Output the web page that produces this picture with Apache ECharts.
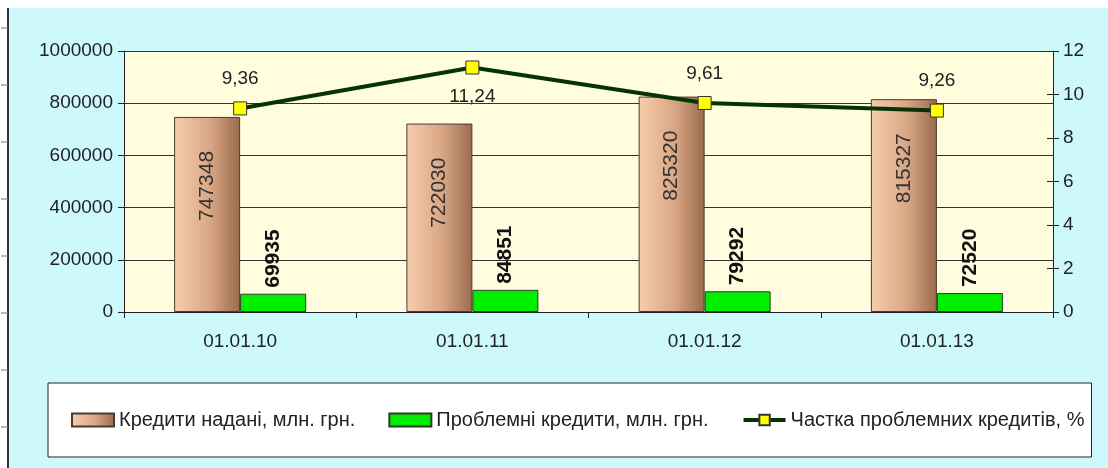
<!DOCTYPE html>
<html>
<head>
<meta charset="utf-8">
<script src="https://cdn.jsdelivr.net/npm/echarts@6/dist/echarts.min.js"></script>
<style>
  html, body { margin: 0; padding: 0; background: #fff; }
  #chart { width: 1108px; height: 468px; }
</style>
</head>
<body>
<div id="chart"></div>
<script>
// Дані діаграми
const dates = ['01.01.10', '01.01.11', '01.01.12', '01.01.13'];
const loans = [747348, 722030, 825320, 815327];
const problemLoans = [69935, 84851, 79292, 72520];
const problemShare = [9.36, 11.24, 9.61, 9.26];
const shareLabelPos = ['top', 'bottom', 'top', 'top'];

const font = 'Liberation Sans, Arial, sans-serif';
const chart = echarts.init(document.getElementById('chart'));

// рамка сторінки зліва
const frame = [
  { type: 'rect', shape: { x: 9, y: 8, width: 1099, height: 460 }, style: { fill: '#cdf9fd' }, z: -10 },
  { type: 'line', shape: { x1: 8, y1: 8, x2: 8, y2: 468 }, style: { stroke: '#333', lineWidth: 2 } }
];
for (let y = 28; y < 468; y += 57) {
  frame.push({ type: 'line', shape: { x1: 1, y1: y, x2: 8, y2: y }, style: { stroke: '#777', lineWidth: 1 } });
}

const tanGradient = new echarts.graphic.LinearGradient(0, 0, 1, 0, [
  { offset: 0, color: '#f6cdac' },
  { offset: 0.55, color: '#d9a685' },
  { offset: 1, color: '#9a6a4c' }
]);

const axisText = { fontFamily: font, fontSize: 19, color: '#222' };

const option = {
  backgroundColor: '#fff',
  animation: false,
  graphic: frame,
  textStyle: { fontFamily: font },
  grid: {
    left: 124, right: 55, top: 51, bottom: 156,
    show: true, backgroundColor: '#fffddd', borderWidth: 0
  },
  legend: {
    left: 48, top: 383,
    padding: [27, 7, 27, 23],
    backgroundColor: '#fff',
    borderColor: '#222',
    borderWidth: 1,
    itemWidth: 42, itemHeight: 13, itemGap: 33,
    textStyle: { fontFamily: font, fontSize: 20, color: '#222' },
    lineStyle: { width: 4 },
    data: [
      { name: 'Кредити надані, млн. грн.', icon: 'rect' },
      { name: 'Проблемні кредити, млн. грн.', icon: 'rect' },
      { name: 'Частка проблемних кредитів, %' }
    ]
  },
  xAxis: {
    type: 'category',
    data: dates,
    axisLine: { lineStyle: { color: '#222', width: 1 } },
    axisTick: { show: true, length: 6, lineStyle: { color: '#222' } },
    axisLabel: Object.assign({ margin: 20 }, axisText)
  },
  yAxis: [
    {
      type: 'value', min: 0, max: 1000000, interval: 200000,
      axisLine: { show: true, lineStyle: { color: '#222' } },
      axisTick: { show: true, length: 6, lineStyle: { color: '#222' } },
      axisLabel: Object.assign({ margin: 11, formatter: v => String(v) }, axisText),
      splitLine: { lineStyle: { color: '#333', width: 1.2 } }
    },
    {
      type: 'value', min: 0, max: 12, interval: 2, position: 'right',
      axisLine: { show: true, lineStyle: { color: '#222' } },
      axisTick: { show: true, length: 6, lineStyle: { color: '#222' } },
      axisLabel: Object.assign({ margin: 10 }, axisText),
      splitLine: { show: false }
    },
    {
      // внутрішні засічки правої осі
      type: 'value', min: 0, max: 12, interval: 2, position: 'right',
      axisLine: { show: false },
      axisTick: { show: true, inside: true, length: 6, lineStyle: { color: '#222' } },
      axisLabel: { show: false },
      splitLine: { show: false }
    }
  ],
  series: [
    {
      name: 'Кредити надані, млн. грн.',
      type: 'bar',
      data: loans,
      barWidth: 66,
      barGap: '0%',
      itemStyle: { color: tanGradient, borderColor: '#4a3a30', borderWidth: 1 },
      label: {
        show: true, position: 'insideTop', distance: 34, rotate: 90,
        align: 'right', verticalAlign: 'middle',
        fontFamily: font, fontSize: 21, color: '#333'
      }
    },
    {
      name: 'Проблемні кредити, млн. грн.',
      type: 'bar',
      data: problemLoans,
      barWidth: 66,
      itemStyle: { color: '#00ee00', borderColor: '#2a3a2a', borderWidth: 1 },
      label: {
        show: true, position: 'top', distance: 6, rotate: 90,
        align: 'left', verticalAlign: 'middle',
        fontFamily: font, fontSize: 21, fontWeight: 'bold', color: '#111'
      }
    },
    {
      name: 'Частка проблемних кредитів, %',
      type: 'line',
      yAxisIndex: 1,
      z: 5,
      data: problemShare.map((v, i) => ({ value: v, label: { position: shareLabelPos[i] } })),
      lineStyle: { color: '#053305', width: 4 },
      itemStyle: { color: '#ffff00', borderColor: '#333', borderWidth: 1 },
      symbol: 'rect',
      symbolSize: 13,
      label: {
        show: true, distance: 13,
        fontFamily: font, fontSize: 19, color: '#222',
        formatter: p => String(p.value).replace('.', ',')
      }
    }
  ]
};

chart.setOption(option);
</script>
</body>
</html>
